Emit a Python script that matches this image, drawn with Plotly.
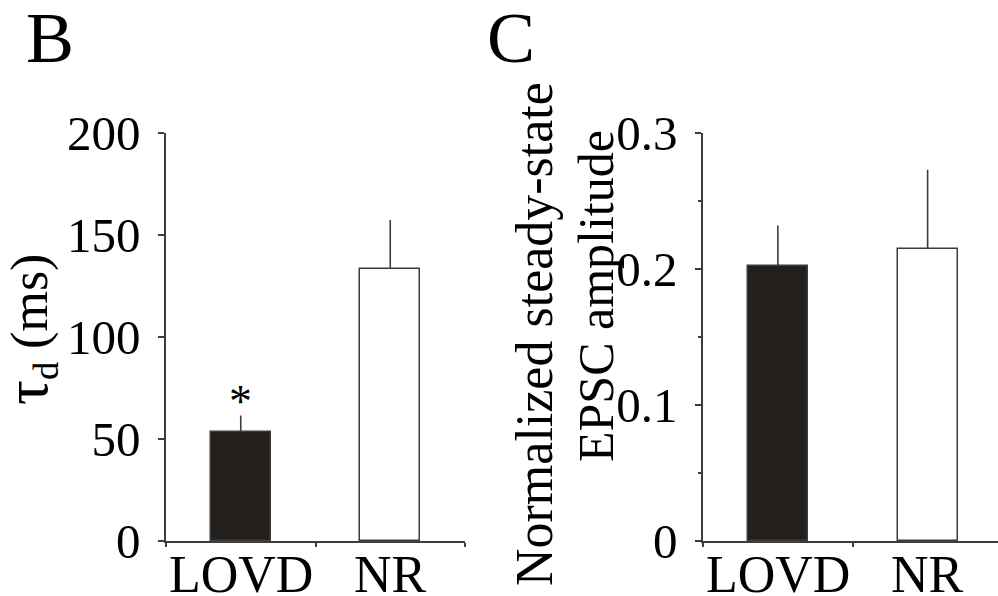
import plotly.graph_objects as go

# ---- data ----
categories = ["LOVD", "NR"]
tau_mean = [53.4, 133.3]          # ms
tau_sem = [8.1, 24.1]
amp_mean = [0.202, 0.215]         # normalized steady-state EPSC amplitude
amp_sem = [0.030, 0.058]
bar_colors = ["#221f1c", "#ffffff"]
tau_ticks = [0, 50, 100, 150, 200]
amp_ticks = [0, 0.1, 0.2, 0.3]
amp_ticklabels = ["0", "0.1", "0.2", "0.3"]

W, H = 998, 596
FONT = "Liberation Serif"
AX = "#3c3c3c"

def px_x(p):
    return p / W

def px_y(p):
    return 1 - p / H

fig = go.Figure()

fig.add_trace(go.Bar(
    x=categories, y=tau_mean, width=0.4, xaxis="x", yaxis="y",
    marker=dict(color=bar_colors, line=dict(color=AX, width=1.5)),
    error_y=dict(type="data", symmetric=False, array=tau_sem, arrayminus=[0, 0],
                 width=0, thickness=1.6, color=AX),
    showlegend=False))

fig.add_trace(go.Bar(
    x=categories, y=amp_mean, width=0.4, xaxis="x2", yaxis="y2",
    marker=dict(color=bar_colors, line=dict(color=AX, width=1.5)),
    error_y=dict(type="data", symmetric=False, array=amp_sem, arrayminus=[0, 0],
                 width=0, thickness=1.6, color=AX),
    showlegend=False))

tickfont = dict(family=FONT, size=49, color="black")

common_x = dict(type="category", range=[-0.5, 1.5], showline=True, linecolor=AX,
                linewidth=1.6, ticks="outside", tickson="boundaries", ticklen=4,
                tickcolor=AX, tickwidth=1.5, showgrid=False, zeroline=False,
                showticklabels=False, automargin=False, fixedrange=True)
common_y = dict(showline=True, linecolor=AX, linewidth=1.6, ticks="outside",
                ticklen=6, tickcolor=AX, tickwidth=1.5, showgrid=False,
                zeroline=False, tickfont=tickfont, automargin=False,
                ticklabelstandoff=8)

y_dom = [px_y(541), px_y(133)]

annotations = [
    dict(text="B", x=px_x(50), y=px_y(38), xref="paper", yref="paper",
         xanchor="center", yanchor="middle", showarrow=False,
         font=dict(family=FONT, size=72, color="black")),
    dict(text="C", x=px_x(511), y=px_y(38), xref="paper", yref="paper",
         xanchor="center", yanchor="middle", showarrow=False,
         font=dict(family=FONT, size=72, color="black")),
    dict(text="<span style='font-size:62px'>τ</span><sub>d</sub> (ms)",
         x=px_x(29), y=px_y(330), xref="paper", yref="paper",
         xanchor="center", yanchor="middle", showarrow=False, textangle=-90,
         font=dict(family=FONT, size=52, color="black")),
    dict(text="Normalized steady-state",
         x=px_x(534), y=px_y(334), xref="paper", yref="paper",
         xanchor="center", yanchor="middle", showarrow=False, textangle=-90,
         font=dict(family=FONT, size=52, color="black")),
    dict(text="EPSC amplitude",
         x=px_x(596), y=px_y(296), xref="paper", yref="paper",
         xanchor="center", yanchor="middle", showarrow=False, textangle=-90,
         font=dict(family=FONT, size=50, color="black")),
    dict(text="*", x=categories[0], y=tau_mean[0] + tau_sem[0], xref="x", yref="y",
         xanchor="center", yanchor="middle", yshift=14, showarrow=False,
         font=dict(family=FONT, size=46, color="black")),
]
# category labels under each panel's x axis
for xr in ["x", "x2"]:
    for c in categories:
        annotations.append(dict(text=c, x=c, y=px_y(574), xref=xr, yref="paper",
                                xanchor="center", yanchor="middle", showarrow=False,
                                font=dict(family=FONT, size=52, color="black")))

fig.update_layout(
    width=W, height=H,
    margin=dict(l=0, r=0, t=0, b=0),
    paper_bgcolor="white", plot_bgcolor="white",
    font=dict(family=FONT, color="black"),
    bargap=0,
    xaxis=dict(common_x, domain=[px_x(166), px_x(465)], anchor="y"),
    yaxis=dict(common_y, domain=y_dom, range=[0, 200], tickvals=tau_ticks, anchor="x"),
    xaxis2=dict(common_x, domain=[px_x(703), 1.0], range=[-0.5, 1.47], anchor="y2"),
    yaxis2=dict(common_y, domain=y_dom, range=[0, 0.3], tickvals=amp_ticks,
                ticktext=amp_ticklabels, anchor="x2",
                minor=dict(tickvals=[0.05, 0.15, 0.25], ticks="outside", ticklen=3,
                           tickcolor=AX, tickwidth=1.5)),
    annotations=annotations,
)

fig.write_html("out.html")
